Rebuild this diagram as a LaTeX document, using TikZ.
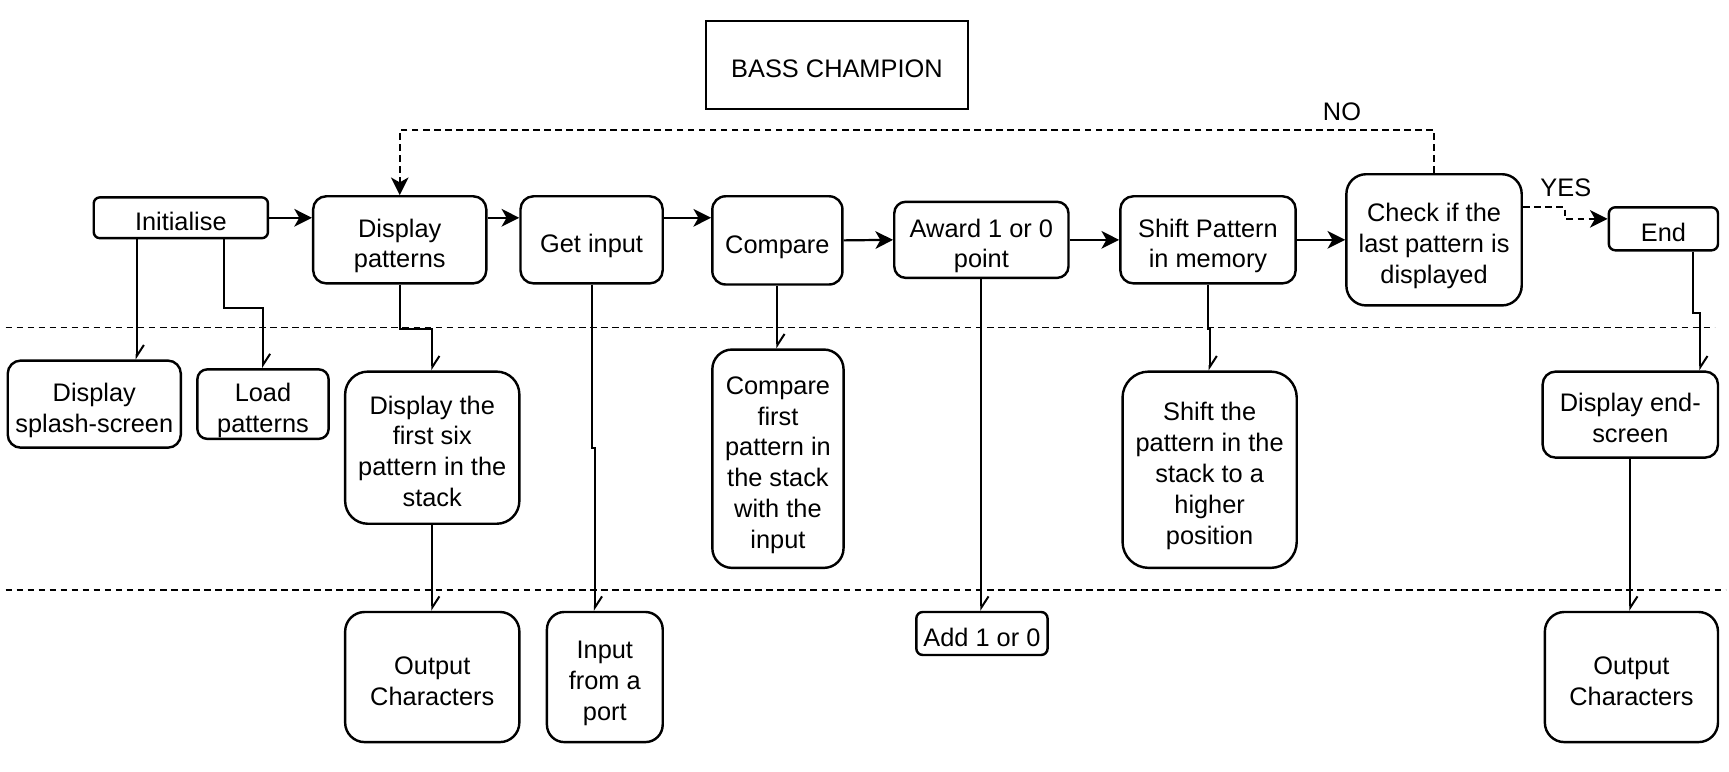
\documentclass[tikz,border=0pt]{standalone}
\usepackage{fontspec}
\setmainfont{Liberation Sans}
\usetikzlibrary{arrows.meta}

\begin{document}
\begin{tikzpicture}[x=1pt, y=-1pt,
    caixa/.style={draw, line width=2.2pt, align=center, inner sep=0pt, font=\fontsize{23}{28}\selectfont},
    rotulo/.style={font=\fontsize{23}{28}\selectfont, inner sep=0pt},
    seta/.style={line width=2pt, -{Stealth[length=16pt, width=16pt, inset=4.5pt]}},
    ramo/.style={line width=1.8pt, -{Straight Barb[left, length=10pt, width=13pt]}},
    tracejado/.style={line width=1.8pt, dash pattern=on 6pt off 4pt}]
  \useasboundingbox (0,0) rectangle (1568,700);

  % Titulo
  \node[caixa, line width=1.8pt, minimum width=238, minimum height=80] (titulo) at (759,59) {\rule{0pt}{29pt}BASS CHAMPION\rule[-6pt]{0pt}{6pt}};

  % Caixas do fluxo
  \foreach \nome/\x/\y/\w/\h/\texto in {
      init/164/197.5/158/37/{Initialise},
      disp/362.5/217.5/157/79/{Display\\patterns},
      getin/536.5/217.5/129/79/{Get input},
      comp/705/218/118/80/{Compare},
      award/890/217.5/158/69/{Award 1 or 0\\point},
      shift/1095.5/217.5/159/79/{Shift Pattern\\in memory},
      check/1300.5/217.5/159/119/{Check if the\\last pattern is\\displayed},
      endn/1508.5/207.5/99/39/{End},
      splash/85.5/366.5/157/79/{Display\\splash-screen},
      load/238.5/366.5/119/59/{Load\\patterns},
      six/392/406/158/138/{Display the\\first six\\pattern in the\\stack},
      compfirst/705.5/416/119/198/{Compare\\first\\pattern in\\the stack\\with the\\input},
      shiftst/1097/426/158/178/{Shift the\\pattern in the\\stack to a\\higher\\position},
      endscr/1478.5/376/159/78/{Display end-\\screen},
      outL/392/614/158/118/{Output\\Characters},
      port/548.5/614/105/118/{Input\\from a\\port},
      add/890.5/574.5/119/39/{Add 1 or 0},
      outR/1479.5/614/157/118/{Output\\Characters}} {
    \pgfmathsetmacro\raio{0.15*min(\w,\h)}
    \node[caixa, rounded corners=\raio, minimum width=\w, minimum height=\h] (\nome) at (\x,\y)
      {\rule{0pt}{29pt}\texto\rule[-6pt]{0pt}{6pt}};
  }

  % Linhas tracejadas
  \draw[tracejado] (5,297) -- (1555,297);
  \draw[tracejado] (5,535) -- (1565,535);

  % Setas principais
  \draw[seta] (init.east) -- (init.east -| disp.west);
  \draw[seta] (disp.east |- init.east) -- (getin.west |- init.east);
  \draw[seta] (getin.east |- init.east) -- (comp.west |- init.east);
  \draw[seta] (comp.east) -- (award.west);
  \draw[seta] (award.east) -- (award.east -| shift.west);
  \draw[seta] (shift.east) -- (check.west);

  % Repeticao e fim
  \node[rotulo] (no) at (1217,101) {NO};
  \node[rotulo] (yes) at (1420,170) {YES};
  \draw[seta, tracejado] (check.north) -- ++(0,-39) -| (disp.north);
  \draw[seta, tracejado] ([yshift=29.5pt]check.east) -- ++(38,0) |- ([yshift=9pt]endn.west);

  % Subtarefas
  \draw[ramo] ([xshift=-40pt]init.south) -- ([xshift=-40pt]init.south |- splash.north);
  \draw[ramo] ([xshift=39pt]init.south) -- ++(0,62) -| (load.north);
  \draw[ramo] (disp.south) -- ++(0,40) -| (six.north);
  \draw[ramo] (getin.south) -- ++(0,148) -| ([xshift=-9pt]port.north);
  \draw[ramo] (comp.south) -- (comp.south |- compfirst.north);
  \draw[ramo] (award.south) -- (award.south |- add.north);
  \draw[ramo] (shift.south) -- ++(0,40) -| (shiftst.north);
  \draw[ramo] ([xshift=26.5pt]endn.south) -- ++(0,56) -| ([xshift=63.5pt]endscr.north);
  \draw[ramo] (six.south) -- (six.south |- outL.north);
  \draw[ramo] (endscr.south) -- (endscr.south |- outR.north);
\end{tikzpicture}
\end{document}
